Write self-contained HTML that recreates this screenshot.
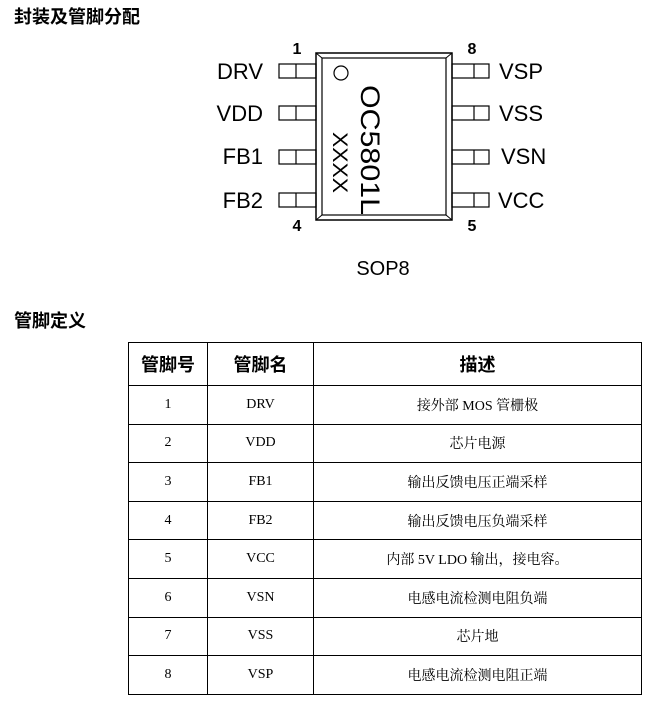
<!DOCTYPE html>
<html><head><meta charset="utf-8"><style>
body{margin:0;width:668px;height:710px;background:#fff;position:relative;font-family:"Liberation Sans","Noto Sans CJK SC",sans-serif;overflow:hidden}
.h{position:absolute;left:14px;font-size:18px;font-weight:bold;color:#000}
table{position:absolute;left:128px;top:342px;border-collapse:collapse;width:514px}
td,th{border:1.5px solid #000;text-align:center;font-family:"Liberation Serif","Noto Serif CJK SC",serif;font-size:14px;height:37.6px;padding:0}
th{font-family:"Liberation Sans","Noto Sans CJK SC",sans-serif;font-size:18px;font-weight:bold;height:42px}
</style></head><body>
<div class="h" style="top:3px">封装及管脚分配</div>
<div class="h" style="top:307px">管脚定义</div>
<svg width="668" height="300" style="position:absolute;left:0;top:0" font-family="Liberation Sans, sans-serif">
<rect x="316" y="53" width="136" height="167" fill="#fff" stroke="#000" stroke-width="1.5"/>
<rect x="322" y="58" width="124" height="157" fill="none" stroke="#000" stroke-width="1.2"/>
<line x1="316" y1="53" x2="322" y2="58" stroke="#000"/><line x1="452" y1="53" x2="446" y2="58" stroke="#000"/>
<line x1="316" y1="220" x2="322" y2="215" stroke="#000"/><line x1="452" y1="220" x2="446" y2="215" stroke="#000"/>
<circle cx="341" cy="73" r="7" fill="none" stroke="#000" stroke-width="1.2"/>
<g fill="none" stroke="#000" stroke-width="1.2">
<rect x="279" y="64" width="37" height="14"/><line x1="296" y1="64" x2="296" y2="78"/>
<rect x="279" y="106" width="37" height="14"/><line x1="296" y1="106" x2="296" y2="120"/>
<rect x="279" y="150" width="37" height="14"/><line x1="296" y1="150" x2="296" y2="164"/>
<rect x="279" y="193" width="37" height="14"/><line x1="296" y1="193" x2="296" y2="207"/>
<rect x="452" y="64" width="37" height="14"/><line x1="474" y1="64" x2="474" y2="78"/>
<rect x="452" y="106" width="37" height="14"/><line x1="474" y1="106" x2="474" y2="120"/>
<rect x="452" y="150" width="37" height="14"/><line x1="474" y1="150" x2="474" y2="164"/>
<rect x="452" y="193" width="37" height="14"/><line x1="474" y1="193" x2="474" y2="207"/>
</g>
<g font-size="22" fill="#000">
<text x="263" y="79" text-anchor="end">DRV</text>
<text x="263" y="121" text-anchor="end">VDD</text>
<text x="263" y="164" text-anchor="end">FB1</text>
<text x="263" y="208" text-anchor="end">FB2</text>
<text x="499" y="79">VSP</text>
<text x="499" y="121">VSS</text>
<text x="501" y="164">VSN</text>
<text x="498" y="208">VCC</text>
</g>
<g font-size="16" font-weight="bold">
<text x="297" y="54" text-anchor="middle">1</text>
<text x="472" y="54" text-anchor="middle">8</text>
<text x="297" y="231" text-anchor="middle">4</text>
<text x="472" y="231" text-anchor="middle">5</text>
</g>
<text font-size="27" transform="translate(361,85) rotate(90)" textLength="130" lengthAdjust="spacingAndGlyphs">OC5801L</text>
<text font-size="21" transform="translate(333,132) rotate(90)" textLength="61" lengthAdjust="spacingAndGlyphs">XXXX</text>
<text x="383" y="275" font-size="20" text-anchor="middle">SOP8</text>
</svg>
<table>
<tr><th style="width:78px">管脚号</th><th style="width:105px">管脚名</th><th>描述</th></tr>
<tr><td>1</td><td>DRV</td><td>接外部 MOS 管栅极</td></tr>
<tr><td>2</td><td>VDD</td><td>芯片电源</td></tr>
<tr><td>3</td><td>FB1</td><td>输出反馈电压正端采样</td></tr>
<tr><td>4</td><td>FB2</td><td>输出反馈电压负端采样</td></tr>
<tr><td>5</td><td>VCC</td><td>内部 5V LDO 输出，接电容。</td></tr>
<tr><td>6</td><td>VSN</td><td>电感电流检测电阻负端</td></tr>
<tr><td>7</td><td>VSS</td><td>芯片地</td></tr>
<tr><td>8</td><td>VSP</td><td>电感电流检测电阻正端</td></tr>
</table>
</body></html>
